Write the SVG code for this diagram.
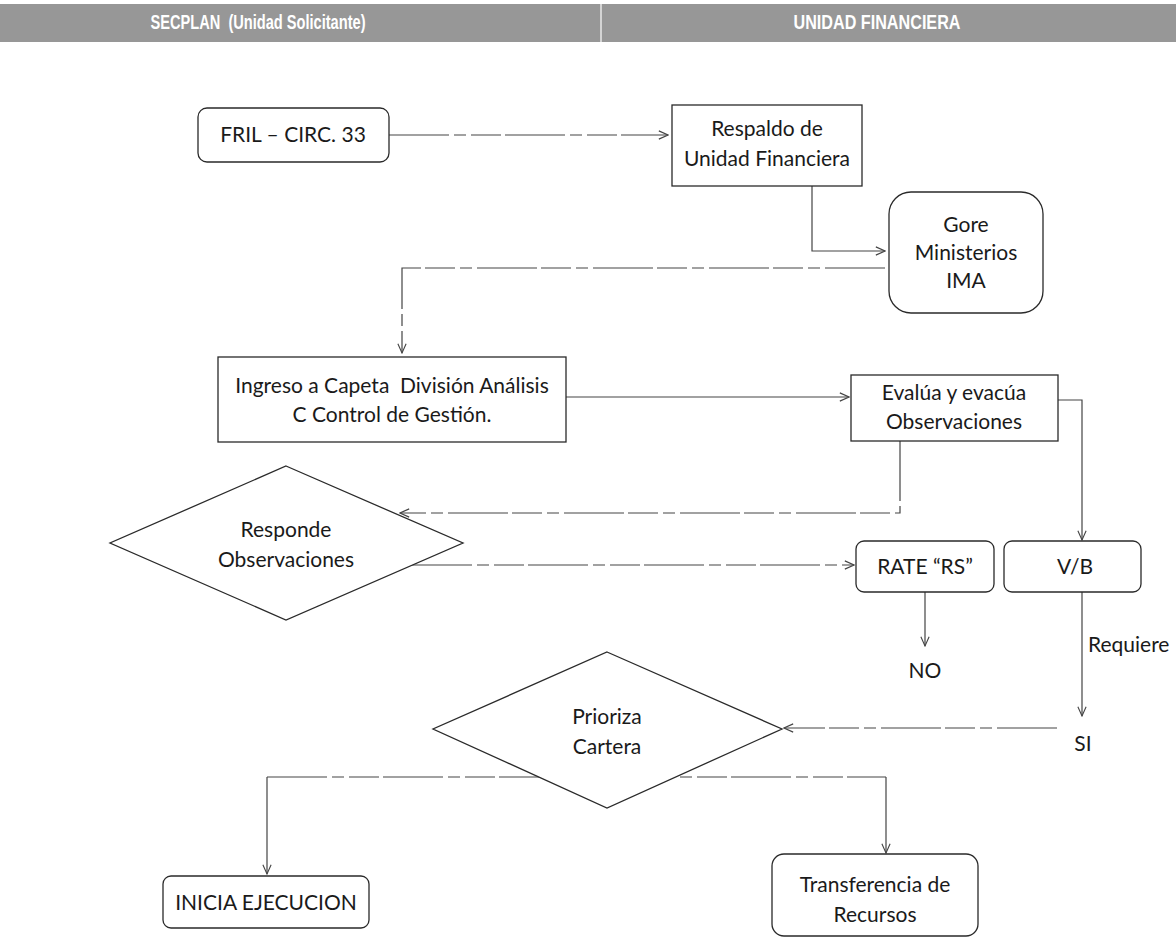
<svg xmlns="http://www.w3.org/2000/svg" width="1176" height="938" viewBox="0 0 1176 938">
<style>
.box{fill:#fff;stroke:#2a2a2a;stroke-width:1.3}
.t{font-family:Lato,"Open Sans",sans-serif;font-size:21px;fill:#1a1a1a;text-anchor:middle}
.hd{font-family:"Liberation Sans",Arial,sans-serif;font-weight:bold;font-size:20px;fill:#fff;text-anchor:middle}
.ln{fill:none;stroke:#444;stroke-width:1.2}
.dl{fill:none;stroke:#444;stroke-width:1.2;stroke-dasharray:60 5 12 5 30 4}
.ar{marker-end:url(#ah)}
</style>
<defs>
<marker id="ah" viewBox="0 0 12 12" refX="11" refY="6" markerWidth="11" markerHeight="11" markerUnits="userSpaceOnUse" orient="auto">
<path d="M1,1.5 L11,6 L1,10.5" fill="none" stroke="#444" stroke-width="1.2"/>
</marker>
</defs>
<rect width="1176" height="938" fill="#fff"/>
<g id="header">
<rect x="0" y="4" width="1176" height="38" fill="#979797"/>
<line x1="601" y1="4" x2="601" y2="42" stroke="#e8e8e8" stroke-width="1.5"/>
<text class="hd" x="258" y="29" textLength="215" lengthAdjust="spacingAndGlyphs">SECPLAN&#160; (Unidad Solicitante)</text>
<text class="hd" x="877" y="29" textLength="167" lengthAdjust="spacingAndGlyphs">UNIDAD FINANCIERA</text>
</g>
<g id="connectors">
<path class="dl ar" d="M389,135 H668"/>
<path class="ln ar" d="M812,186 V251 H885"/>
<path class="dl ar" d="M885,268 H402 V353"/>
<path class="ln ar" d="M566,397 H849"/>
<path class="dl ar" d="M900,441 V513 H400"/>
<path class="ln ar" d="M1058,400 H1082 V540"/>
<path class="dl ar" d="M412,565 H854"/>
<path class="ln ar" d="M925,592 V646"/>
<path class="ln ar" d="M1082,592 V716"/>
<path class="dl ar" d="M1057,728 H784"/>
<path class="dl" d="M267,777 H886"/>
<path class="ln ar" d="M267,777 V874"/>
<path class="ln ar" d="M886,777 V853"/>
</g>
<g id="fril">
<rect class="box" x="198" y="108" width="191" height="54" rx="9"/>
<text class="t" x="293" y="142">FRIL – CIRC. 33</text>
</g>
<g id="respaldo">
<rect class="box" x="672" y="105" width="190" height="81"/>
<text class="t" x="767" y="136">Respaldo de</text>
<text class="t" x="767" y="166">Unidad Financiera</text>
</g>
<g id="gore">
<rect class="box" x="889" y="192" width="154" height="121" rx="22"/>
<text class="t" x="966" y="232">Gore</text>
<text class="t" x="966" y="260">Ministerios</text>
<text class="t" x="966" y="288">IMA</text>
</g>
<g id="ingreso">
<rect class="box" x="218" y="357" width="348" height="85"/>
<text class="t" x="392" y="393">Ingreso a Capeta&#160; División Análisis</text>
<text class="t" x="392" y="422">C Control de Gestión.</text>
</g>
<g id="evalua">
<rect class="box" x="851" y="375" width="207" height="66"/>
<text class="t" x="954" y="400">Evalúa y evacúa</text>
<text class="t" x="954" y="429">Observaciones</text>
</g>
<g id="responde">
<polygon class="box" points="286,466 463,543 286,620 110,543"/>
<text class="t" x="286" y="537">Responde</text>
<text class="t" x="286" y="567">Observaciones</text>
</g>
<g id="rate">
<rect class="box" x="856" y="541" width="138" height="51" rx="8"/>
<text class="t" x="925" y="574">RATE “RS”</text>
</g>
<g id="vb">
<rect class="box" x="1004" y="541" width="137" height="51" rx="8"/>
<text class="t" x="1075" y="574">V/B</text>
</g>
<g id="no"><text class="t" x="925" y="678">NO</text></g>
<g id="requiere"><text class="t" x="1088" y="652" style="text-anchor:start">Requiere</text></g>
<g id="si"><text class="t" x="1083" y="751">SI</text></g>
<g id="prioriza">
<polygon class="box" points="607,652 782,729 607,808 433,729"/>
<text class="t" x="607" y="724">Prioriza</text>
<text class="t" x="607" y="754">Cartera</text>
</g>
<g id="inicia">
<rect class="box" x="163" y="876" width="206" height="52" rx="8"/>
<text class="t" x="266" y="910">INICIA EJECUCION</text>
</g>
<g id="transferencia">
<rect class="box" x="772" y="854" width="206" height="82" rx="12"/>
<text class="t" x="875" y="892">Transferencia de</text>
<text class="t" x="875" y="922">Recursos</text>
</g>
</svg>
